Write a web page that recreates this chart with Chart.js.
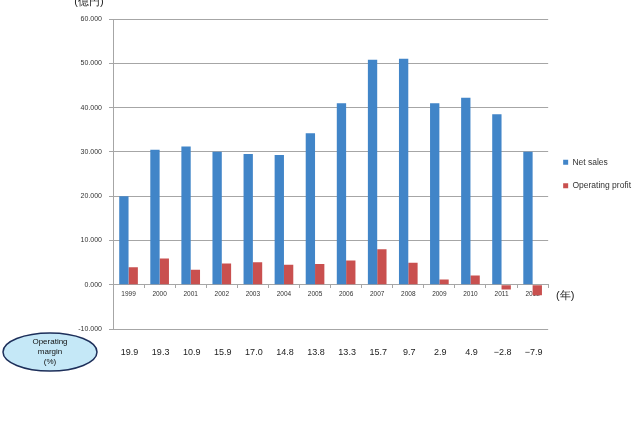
<!DOCTYPE html>
<html>
<head>
<meta charset="utf-8">
<script src="https://cdn.jsdelivr.net/npm/chart.js@4"></script>
<style>
  html, body { margin: 0; padding: 0; background: #fff; }
  #wrap { width: 641px; height: 433px; position: relative; }
</style>
</head>
<body>
<div id="wrap"><canvas id="c" width="641" height="433"></canvas></div>
<script>
// 年份
const years = ['1999', '2000', '2001', '2002', '2003', '2004', '2005', '2006', '2007', '2008', '2009', '2010', '2011', '2012'];
// 売上高
const netSales = [20000, 30500, 31200, 30000, 29500, 29300, 34200, 41000, 50800, 51000, 41000, 42200, 38500, 30000];
// 営業利益
const operatingProfit = [3950, 5900, 3400, 4800, 5050, 4500, 4700, 5450, 8000, 4950, 1200, 2100, -1100, -2400];
// 営業利益率 (%)
const operatingMargin = [19.9, 19.3, 10.9, 15.9, 17.0, 14.8, 13.8, 13.3, 15.7, 9.7, 2.9, 4.9, -2.8, -7.9];
// y軸の目盛り
const yTicks = [-10000, 0, 10000, 20000, 30000, 40000, 50000, 60000];

const BLUE = '#4185c8';
const RED = '#c9504f';
const GRID = '#a6a6a6';
const FONT = '"Liberation Sans", Arial, sans-serif';

// 下部の営業利益率と注記を描く
const extras = {
  id: 'extras',
  afterDraw(chart) {
    const ctx = chart.ctx;
    const x = chart.scales.x;
    const y = chart.scales.y;
    const area = chart.chartArea;
    ctx.save();

    // 単位
    ctx.fillStyle = '#222';
    ctx.font = '11px ' + FONT;
    ctx.textAlign = 'center';
    ctx.textBaseline = 'middle';
    ctx.fillText('(億円)', 89, 2);
    ctx.fillText('(年)', area.right + 17, y.getPixelForValue(0) + 11);

    // 営業利益率の値
    const rowY = y.getPixelForValue(-10000) + 23;
    ctx.font = '9px ' + FONT;
    ctx.fillStyle = '#222';
    operatingMargin.forEach((m, i) => {
      const s = (m < 0 ? '\u2212' : '') + Math.abs(m).toFixed(1);
      ctx.fillText(s, x.getPixelForValue(i) + 1, rowY + 1);
    });

    // 楕円ラベル
    ctx.beginPath();
    ctx.ellipse(50, rowY, 47, 19, 0, 0, Math.PI * 2);
    ctx.fillStyle = '#c5e8f7';
    ctx.fill();
    ctx.lineWidth = 1.5;
    ctx.strokeStyle = '#1d2f5a';
    ctx.stroke();
    ctx.fillStyle = '#111';
    ctx.font = '8px ' + FONT;
    ctx.fillText('Operating', 50, rowY - 10);
    ctx.fillText('margin', 50, rowY);
    ctx.fillText('(%)', 50, rowY + 10);
    ctx.restore();
  }
};

new Chart(document.getElementById('c'), {
  type: 'bar',
  data: {
    labels: years,
    datasets: [
      { label: 'Net sales', data: netSales, backgroundColor: BLUE },
      { label: 'Operating profit', data: operatingProfit, backgroundColor: RED }
    ]
  },
  options: {
    responsive: false,
    animation: false,
    layout: { padding: { top: 19, bottom: 104, left: 0, right: 0 } },
    datasets: { bar: { categoryPercentage: 0.6, barPercentage: 1.0 } },
    scales: {
      x: {
        position: { y: 0 },
        grid: { offset: true, drawOnChartArea: false, drawTicks: true, tickLength: 3, color: GRID },
        border: { color: GRID, width: 1 },
        ticks: { font: { size: 6.5, family: FONT }, color: '#333', padding: 3, maxRotation: 0 }
      },
      y: {
        min: -10000,
        max: 60000,
        afterFit(s) { s.width = 113; },
        afterBuildTicks(s) { s.ticks = yTicks.map(v => ({ value: v })); },
        grid: { color: GRID, tickLength: 4, drawTicks: true },
        border: { color: GRID, width: 1 },
        ticks: {
          font: { size: 7, family: FONT },
          color: '#333',
          padding: 7,
          callback: v => (v < 0 ? '-' : '') + (Math.abs(v) / 1000).toFixed(3)
        }
      }
    },
    plugins: {
      legend: {
        position: 'right',
        align: 'center',
        labels: {
          boxWidth: 5,
          boxHeight: 5,
          padding: 15,
          color: '#333',
          font: { size: 8.5, family: FONT, lineHeight: 0.3 }
        }
      },
      tooltip: { enabled: false }
    }
  },
  plugins: [extras]
});
</script>
</body>
</html>
